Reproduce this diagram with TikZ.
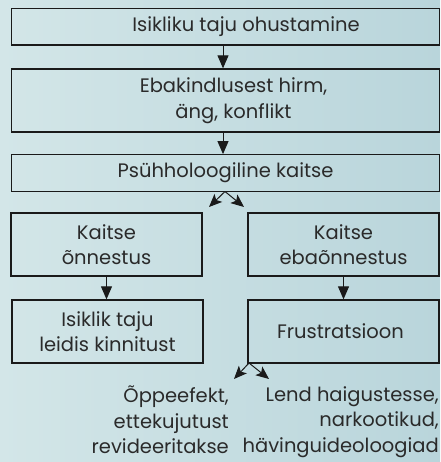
\documentclass[tikz,border=0pt]{standalone}
\usepackage{fontspec}
\setmainfont{Poppins}
\usetikzlibrary{arrows.meta,calc}
\definecolor{bgl}{HTML}{D3E6E8}
\definecolor{bgr}{HTML}{B9D5DB}
\definecolor{ink}{HTML}{1A1A1A}
\definecolor{txt}{HTML}{2A2A2A}
\begin{document}
\begin{tikzpicture}[x=1pt,y=-1pt,
  box/.style={draw=ink,line width=1.3pt,inner sep=0pt,minimum width=#1,anchor=center},
  box/.default=428pt,
  lbl/.style={text=txt,font=\fontsize{19.5}{25.5}\selectfont,align=center,inner sep=0pt},
  varr/.style={draw=ink,line width=1pt,-{Triangle[length=13pt,width=11pt]}},
  darr/.style={draw=ink,line width=1pt,-{Stealth[length=13pt,width=11pt,inset=3pt]}}]
\useasboundingbox (0,0) rectangle (440,462);
\shade[left color=bgl,right color=bgr] (0,0) rectangle (440,462);
% boxes
\node[box=428pt,minimum height=36.5pt] (b1) at (225.5,26.75) {};
\node[box=428pt,minimum height=63pt] (b2) at (225.5,100.5) {};
\node[box=428pt,minimum height=36.5pt] (b3) at (225.5,173) {};
\node[box=191pt,minimum height=63pt] (b4) at (106.5,244.5) {};
\node[box=191pt,minimum height=63pt] (b5) at (343.5,244.5) {};
\node[box=191pt,minimum height=63pt] (b6) at (107.5,331.5) {};
\node[box=191pt,minimum height=63pt] (b7) at (343.5,331.5) {};
% texts
\node[lbl] (t1) at ($(b1.center)+(20.5,0)$) {Isikliku taju ohustamine};
\node[lbl] (t2) at ($(b2.center)+(8,0)$) {Ebakindlusest hirm,\\äng, konflikt};
\node[lbl] (t3) at (b3.center) {Psühholoogiline kaitse};
\node[lbl] (t4) at (b4.center) {Kaitse\\õnnestus};
\node[lbl] (t5) at (b5.center) {Kaitse\\ebaõnnestus};
\node[lbl] (t6) at (b6.center) {Isiklik taju\\leidis kinnitust};
\node[lbl] (t7) at ($(b7.center)+(-3,0)$) {Frustratsioon};
\node[lbl,align=right,anchor=north east] (t8) at (229,386) {Õppeefekt,\\ettekujutust\\revideeritakse};
\node[lbl,align=right,anchor=north east] (t9) at (439,386) {Lend haigustesse,\\narkootikud,\\hävinguideoloogiad};
% connectors
\coordinate (ax) at (223,0);
\draw[varr] (b1.south -| ax) -- (b2.north -| ax);
\draw[varr] (b2.south -| ax) -- (b3.north -| ax);
\draw[varr] (b4.south) -- (b4.south |- b6.north);
\draw[varr] (b5.south -| b7.center) -- (b7.north);
\coordinate (o1) at (225,191.5);
\coordinate (p1) at (209,207);
\coordinate (q1) at (244,207);
\draw[darr] (o1) -- (p1);
\draw[darr] (o1) -- (q1);
\coordinate (o2) at (249,363);
\coordinate (p2) at (234,379);
\coordinate (q2) at (269,379);
\draw[darr] (o2) -- (p2);
\draw[darr] (o2) -- (q2);
\end{tikzpicture}
\end{document}
